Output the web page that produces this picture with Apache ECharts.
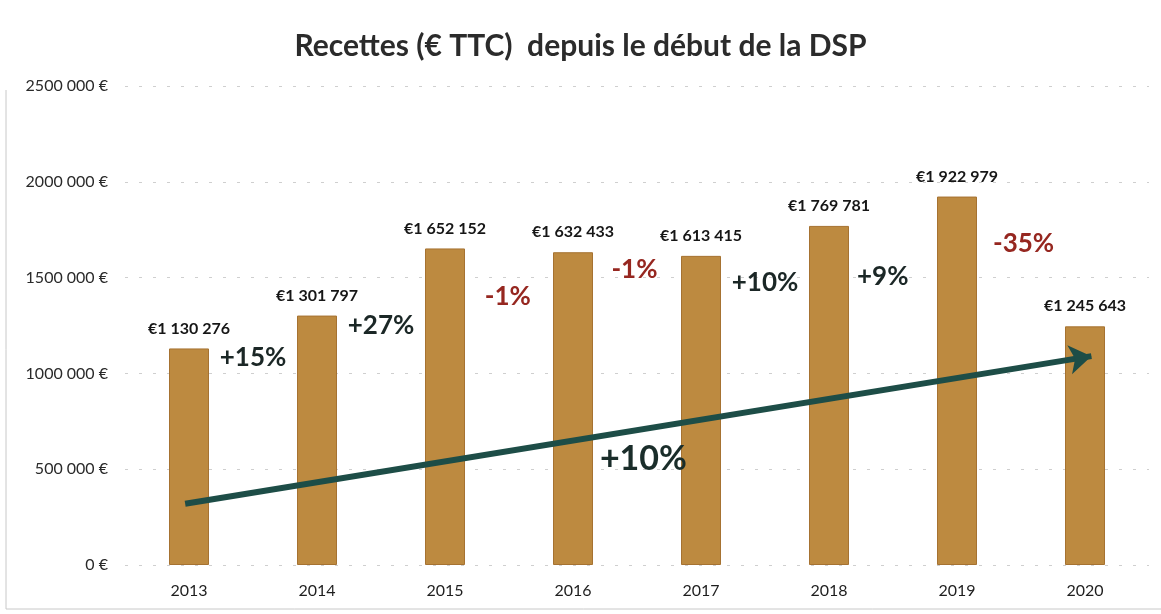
<!DOCTYPE html>
<html>
<head>
<meta charset="utf-8">
<script src="https://cdn.jsdelivr.net/npm/echarts@6/dist/echarts.min.js"></script>
<style>
  html, body { margin: 0; padding: 0; background: #ffffff; }
  #chart { width: 1161px; height: 614px; }
</style>
</head>
<body>
<div id="chart"></div>
<script>
// Annual revenue (EUR incl. VAT) since the start of the DSP
const years = ['2013', '2014', '2015', '2016', '2017', '2018', '2019', '2020'];
const revenue = [1130276, 1301797, 1652152, 1632433, 1613415, 1769781, 1922979, 1245643];

// Year-on-year change labels, placed between bars (x in category units, y in EUR)
const changeLabels = ['+15%', '+27%', '-1%', '-1%', '+10%', '+9%', '-35%'];
const changeX = [1.0, 2.0, 2.99, 3.98, 5.0, 5.92, 7.02];
const changeY = [1080000, 1250000, 1400000, 1540000, 1475000, 1505000, 1680000];

// Overall trend arrow and its label
const trendStart = [0.47, 320000];
const trendEnd = [7.55, 1090000];
const trendLabel = '+10%';
const trendLabelPos = [4.05, 555000];

const FONT = 'Lato, "Open Sans", sans-serif';

function groupDigits(n) {
  return String(n).replace(/\B(?=(\d{3})+(?!\d))/g, ' ');
}
function yTickLabel(v) {
  if (v === 0) return '0 €';
  // thousands grouping, leading group kept whole (e.g. 2500 000 €)
  const s = String(v);
  return s.slice(0, s.length - 3) + ' ' + s.slice(-3) + ' €';
}

const chart = echarts.init(document.getElementById('chart'));

const changeData = changeLabels.map((t, i) => ({
  value: [changeX[i], changeY[i]],
  label: {
    formatter: t,
    color: t.charAt(0) === '-' ? '#962720' : '#1b2726'
  }
}));

chart.setOption({
  animation: false,
  backgroundColor: '#ffffff',
  textStyle: { fontFamily: FONT },
  title: {
    text: 'Recettes (€ TTC)  depuis le début de la DSP',
    left: 'center',
    top: 26,
    textStyle: { fontFamily: FONT, fontSize: 30, fontWeight: 'bold', color: '#2b2b2b' }
  },
  grid: { left: 125, right: 12, top: 86, bottom: 49 },
  xAxis: [
    {
      type: 'category',
      data: years,
      axisLine: { show: false },
      axisTick: { show: false },
      axisLabel: { color: '#1e1e1e', fontSize: 16, margin: 18, fontFamily: FONT }
    },
    {
      type: 'value',
      min: 0,
      max: 8,
      show: false
    }
  ],
  yAxis: {
    type: 'value',
    min: 0,
    max: 2500000,
    interval: 500000,
    axisLine: { show: false },
    axisTick: { show: false },
    axisLabel: {
      color: '#2a2a2a',
      fontSize: 16,
      margin: 17,
      fontFamily: FONT,
      formatter: yTickLabel
    },
    splitLine: { lineStyle: { color: '#cfcfcf', type: [3, 11], width: 1 } }
  },
  series: [
    {
      type: 'bar',
      data: revenue,
      barWidth: 40,
      itemStyle: { color: '#bd8a40', borderColor: '#a67231', borderWidth: 1 },
      label: {
        show: true,
        position: 'top',
        distance: 12,
        color: '#161616',
        fontSize: 16,
        fontWeight: 'bold',
        fontFamily: FONT,
        formatter: p => '€' + groupDigits(p.value)
      },
      z: 2
    },
    {
      type: 'scatter',
      xAxisIndex: 1,
      data: changeData,
      symbolSize: 0,
      itemStyle: { opacity: 1 },
      label: {
        show: true,
        position: 'inside',
        fontSize: 26,
        fontWeight: 'bold',
        fontFamily: FONT,
        textBorderWidth: 0
      },
      z: 5
    },
    {
      type: 'lines',
      coordinateSystem: 'cartesian2d',
      xAxisIndex: 1,
      symbol: ['none', 'arrow'],
      symbolSize: 22,
      lineStyle: { color: '#1d4d47', width: 6, opacity: 1 },
      data: [{ coords: [trendStart, trendEnd] }],
      z: 4
    },
    {
      type: 'scatter',
      xAxisIndex: 1,
      data: [{ value: trendLabelPos }],
      symbolSize: 0,
      itemStyle: { opacity: 1 },
      label: {
        show: true,
        position: 'inside',
        formatter: trendLabel,
        color: '#1a2d2a',
        fontSize: 34,
        fontWeight: 'bold',
        fontFamily: FONT,
        textBorderWidth: 0
      },
      z: 6
    }
  ],
  graphic: [
    {
      type: 'polyline',
      shape: { points: [[6, 90], [6, 609], [1161, 609]] },
      style: { stroke: '#c8c8c8', lineWidth: 1, fill: null },
      silent: true
    }
  ]
});
</script>
</body>
</html>
